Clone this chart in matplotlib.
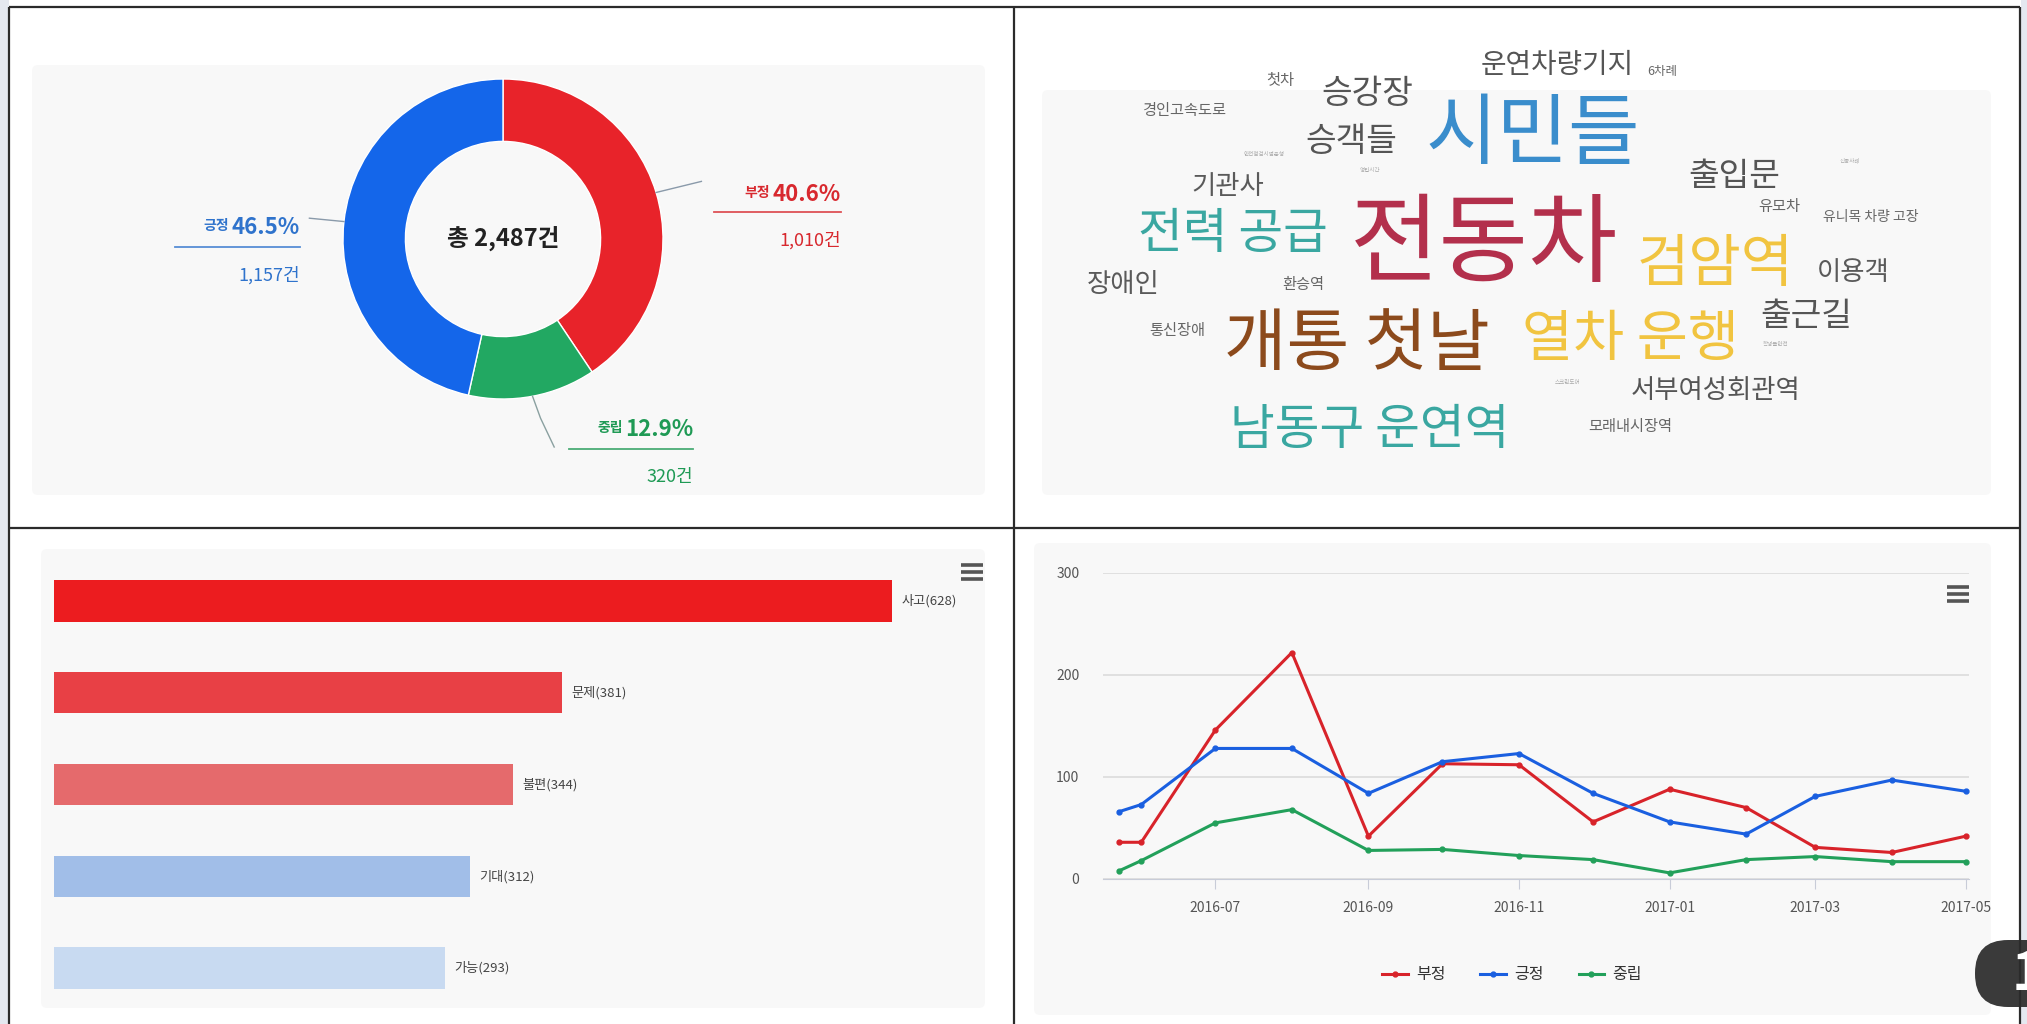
import numpy as np
import pandas as pd
import matplotlib
matplotlib.use("Agg")
import matplotlib.pyplot as plt
import matplotlib.dates as mdates
from matplotlib.patches import FancyBboxPatch, Rectangle

plt.rcParams['font.family'] = ['Noto Sans CJK KR', 'DejaVu Sans']

W, H = 2027, 1024

# ---- data ----
sent_names = ['부정', '중립', '긍정']
sent_counts = [1010, 320, 1157]
sent_pcts = [40.6, 12.9, 46.5]
sent_colors = ['#e8232a', '#22a862', '#1466ea']
sent_text_colors = ['#d8282e', '#1f9a55', '#2f73cc']
total_count = 2487

bar_labels = ['사고', '문제', '불편', '기대', '가능']
bar_values = [628, 381, 344, 312, 293]
bar_colors = ['#ec1c1f', '#e84045', '#e56a6c', '#a1bee8', '#c8daf1']

dates = pd.to_datetime(['2016-05-23', '2016-06-01', '2016-07-01', '2016-08-01', '2016-09-01',
                        '2016-10-01', '2016-11-01', '2016-12-01', '2017-01-01', '2017-02-01',
                        '2017-03-01', '2017-04-01', '2017-05-01'])
neg = [36, 36, 146, 222, 42, 113, 112, 56, 88, 70, 31, 26, 42]
pos = [66, 73, 128, 128, 84, 115, 123, 84, 56, 44, 81, 97, 86]
neu = [8, 18, 55, 68, 28, 29, 23, 19, 6, 19, 22, 17, 17]

words = ['운연차량기지', '6차례', '첫차', '승강장', '경인고속도로', '시민들', '승객들',
         '안전점검시범운행', '영업시간', '신종사례', '출입문', '기관사', '유모차', '유니목 차량 고장',
         '전력 공급', '전동차', '검암역', '이용객', '장애인', '환승역', '출근길', '통신장애',
         '개통 첫날', '열차 운행', '학생들안전', '스크린도어', '서부여성회관역', '남동구 운연역', '모래내시장역']
word_sizes = [20, 9, 11, 24, 11, 56, 24, 4, 4, 4, 24, 19, 11, 10,
              35, 70, 41, 19, 19, 11, 24, 11, 49, 40, 4, 4, 19, 35, 11]
word_colors = ['#555555', '#666666', '#666666', '#555555', '#666666', '#3a8dcc', '#555555',
               '#aaaaaa', '#aaaaaa', '#aaaaaa', '#555555', '#5a5a5a', '#666666', '#666666',
               '#3aa7a1', '#b3304c', '#f1c440', '#5a5a5a', '#5a5a5a', '#666666', '#555555', '#666666',
               '#8c4a1c', '#f1c440', '#aaaaaa', '#aaaaaa', '#555555', '#3aa7a1', '#666666']
word_x = [1557, 1662, 1280, 1367, 1184, 1533, 1351, 1264, 1370, 1850, 1734, 1228, 1779, 1871,
          1233, 1484, 1715, 1853, 1123, 1303, 1806, 1177, 1357, 1630, 1776, 1568, 1716, 1370, 1630]
word_y = [65, 71, 80, 93, 111, 136, 142, 155, 171, 160, 177, 187, 206, 217,
          234, 246, 265, 273, 284, 284, 317, 330, 346, 340, 345, 383, 390, 430, 427]


def rect(x0, y0, x1, y1):
    return [x0 / W, 1 - y1 / H, (x1 - x0) / W, (y1 - y0) / H]


fig = plt.figure(figsize=(W / 100, H / 100), dpi=100, facecolor='white')

# side strips and panel backgrounds
bg = fig.add_axes([0, 0, 1, 1])
bg.set_xlim(0, W)
bg.set_ylim(H, 0)
bg.axis('off')
bg.add_patch(Rectangle((0, 0), 9, H, color='#e4e8f0', lw=0))
bg.add_patch(Rectangle((2021, 0), 10, H, color='#e4e8f0', lw=0))
for (x0, y0, x1, y1) in [(32, 65, 985, 495), (1042, 90, 1991, 495),
                         (41, 549, 985, 1008), (1034, 543, 1991, 1015)]:
    bg.add_patch(FancyBboxPatch((x0, y0), x1 - x0, y1 - y0, boxstyle='round,pad=0,rounding_size=6',
                                fc='#f8f8f8', ec='none'))
# panel frame
for xs, ys in [((9, 2020), (7, 7)), ((9, 9), (7, H)), ((2020, 2020), (7, H)),
               ((9, 2020), (528, 528)), ((1014, 1014), (7, H))]:
    bg.plot(xs, ys, color='#2b2b2b', lw=1.6, solid_capstyle='butt')

# ---- donut ----
ax1 = fig.add_axes(rect(103, 39, 903, 439))
wedges, _ = ax1.pie(sent_counts, colors=sent_colors, startangle=90, counterclock=False,
                    radius=1.0, wedgeprops=dict(width=0.39, edgecolor='white', linewidth=1))
ax1.set_xlim(-2.5, 2.5)
ax1.set_ylim(-1.25, 1.25)
ax1.set_aspect('equal')
ax1.axis('off')
ax1.text(0, 0, f'총 {total_count:,}건', ha='center', va='center', fontsize=17,
         fontweight='bold', color='#222222')

# label layout: (right edge x, pct y, underline y, underline left, count y, leader end)
lab = {
    '부정': (2.11, 0.28, 0.17, 1.32, -0.01, (1.24, 0.36)),
    '중립': (1.19, -1.19, -1.31, 0.41, -1.49, (0.32, -1.30)),
    '긍정': (-1.27, 0.07, -0.05, -2.05, -0.23, (-1.21, 0.13)),
}
for name, cnt, pct, w, tc in zip(sent_names, sent_counts, sent_pcts, wedges, sent_text_colors):
    xr, yp, yu, xl, yc, lend = lab[name]
    ang = np.deg2rad((w.theta1 + w.theta2) / 2)
    p0 = (1.0 * np.cos(ang), 1.0 * np.sin(ang))
    if name == '중립':
        ax1.plot([p0[0], p0[0] + 0.05, lend[0]], [p0[1], -1.12, lend[1]], color='#8aa0a0', lw=1,
                 clip_on=False)
    else:
        ax1.plot([p0[0], lend[0]], [p0[1], lend[1]], color='#8a9aaa', lw=1, clip_on=False)
    ax1.text(xr, yp, f'{pct}%', ha='right', va='center', fontsize=16, color=tc, fontweight='bold')
    ax1.text(xr - 0.44, yp + 0.01, name, ha='right', va='center', fontsize=10, color=tc,
             fontweight='bold')
    ax1.plot([xl, xr], [yu, yu], color=tc, lw=1.3, alpha=0.8, clip_on=False)
    ax1.text(xr, yc, f'{cnt:,}건', ha='right', va='center', fontsize=13, color=tc)

# ---- word cloud ----
ax2 = fig.add_axes(rect(1014, 7, 2020, 528))
ax2.set_xlim(1014, 2020)
ax2.set_ylim(528, 7)
ax2.axis('off')
for wd, s, c, x, y in zip(words, word_sizes, word_colors, word_x, word_y):
    ax2.text(x, y, wd, fontsize=s, color=c, ha='center', va='center')

# ---- bar chart ----
ax3 = fig.add_axes(rect(54, 555, 988, 1014))
ypos = np.arange(len(bar_values))
ax3.barh(ypos, bar_values, height=0.45, color=bar_colors)
ax3.set_xlim(0, 700)
ax3.set_ylim(4.5, -0.5)
ax3.axis('off')
for i, (lbl, v) in enumerate(zip(bar_labels, bar_values)):
    ax3.text(v + 7, i, f'{lbl}({v})', ha='left', va='center', fontsize=9.5, color='#444444')

# ---- line chart ----
ax4 = fig.add_axes(rect(1103, 573, 1969, 879))
ax4.plot(dates, neg, color='#d8232a', lw=2.2, marker='o', ms=3.5, label='부정')
ax4.plot(dates, pos, color='#1a5fe0', lw=2.2, marker='o', ms=3.5, label='긍정')
ax4.plot(dates, neu, color='#22a05a', lw=2.2, marker='o', ms=3.5, label='중립')
ax4.set_ylim(0, 300)
ax4.set_yticks([0, 100, 200, 300])
ax4.set_xlim(mdates.date2num(pd.Timestamp('2016-05-16 12:00')),
             mdates.date2num(pd.Timestamp('2017-05-02 06:00')))
ax4.xaxis.set_major_locator(mdates.MonthLocator(bymonth=[1, 3, 5, 7, 9, 11]))
ax4.xaxis.set_major_formatter(mdates.DateFormatter('%Y-%m'))
ax4.set_facecolor('none')
for sp in ['top', 'right', 'left']:
    ax4.spines[sp].set_visible(False)
ax4.spines['bottom'].set_color('#c8ccd8')
ax4.grid(axis='y', color='#dcdcdc', lw=1.2)
ax4.set_axisbelow(True)
ax4.tick_params(axis='y', length=0, pad=17, labelsize=10, labelcolor='#555555')
ax4.tick_params(axis='x', length=7, color='#c8ccd8', pad=9, labelsize=10, labelcolor='#555555')
fig.legend(loc='center', bbox_to_anchor=(1512 / W, 1 - 975 / H), ncol=3, frameon=False,
           fontsize=11.5, handlelength=1.6, columnspacing=2.2, handletextpad=0.5,
           labelcolor='#333333')

# menu icons
for cx, cy in [(972, 572), (1958, 594)]:
    for dy in (-7, 0, 7):
        bg.plot([cx - 11, cx + 11], [cy + dy, cy + dy], color='#555555', lw=2.6,
                solid_capstyle='butt')

# page badge
bg.add_patch(FancyBboxPatch((1975, 940), 90, 67, boxstyle='round,pad=0,rounding_size=33',
                            fc='#3a3a3a', ec='none', clip_on=False))
bg.text(2012, 974, '1', color='white', fontsize=38, fontweight='bold', ha='left', va='center')

fig.savefig('out.png', dpi=100, facecolor='white')
